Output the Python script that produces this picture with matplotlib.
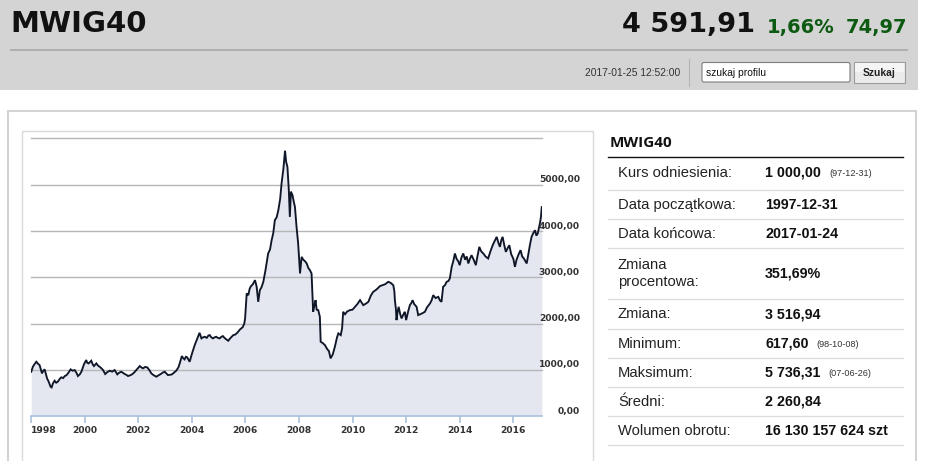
import matplotlib
matplotlib.use("Agg")
import matplotlib.pyplot as plt
from matplotlib.patches import Rectangle, FancyBboxPatch
from matplotlib.transforms import offset_copy

# ---------------- data ----------------
years = [1998.01, 1998.07, 1998.13, 1998.20, 1998.26, 1998.32, 1998.41, 1998.46, 1998.51, 1998.56,
         1998.60, 1998.66, 1998.73, 1998.77, 1998.82, 1998.88, 1998.94, 1999.00, 1999.07, 1999.13,
         1999.20, 1999.26, 1999.32, 1999.38, 1999.48, 1999.55, 1999.63, 1999.70, 1999.75, 1999.82,
         1999.88, 1999.98, 2000.06, 2000.10, 2000.15, 2000.25, 2000.30, 2000.35, 2000.44, 2000.50,
         2000.56, 2000.63, 2000.69, 2000.77, 2000.85, 2000.94, 2001.03, 2001.12, 2001.17, 2001.22,
         2001.30, 2001.37, 2001.44, 2001.50, 2001.56, 2001.62, 2001.70, 2001.77, 2001.85, 2001.93,
         2002.06, 2002.12, 2002.18, 2002.26, 2002.34, 2002.42, 2002.49, 2002.58, 2002.68, 2002.76,
         2002.84, 2002.92, 2002.99, 2003.05, 2003.11, 2003.18, 2003.26, 2003.34, 2003.42, 2003.50,
         2003.55, 2003.63, 2003.68, 2003.73, 2003.78, 2003.83, 2003.92, 2004.01, 2004.11, 2004.21,
         2004.29, 2004.36, 2004.42, 2004.48, 2004.56, 2004.62, 2004.67, 2004.73, 2004.79, 2004.85,
         2004.91, 2004.97, 2005.04, 2005.10, 2005.16, 2005.22, 2005.29, 2005.36, 2005.45, 2005.55,
         2005.62, 2005.70, 2005.80, 2005.90, 2005.96, 2005.99,
         2006.05, 2006.11, 2006.16, 2006.20, 2006.28, 2006.36,
         2006.42, 2006.48, 2006.54, 2006.60, 2006.67, 2006.75, 2006.85, 2006.92, 2006.98, 2007.04,
         2007.10, 2007.17, 2007.23, 2007.30, 2007.35, 2007.42, 2007.48, 2007.52, 2007.57, 2007.62,
         2007.66, 2007.70, 2007.76, 2007.80, 2007.85, 2007.91, 2007.97, 2008.04, 2008.10, 2008.16,
         2008.22, 2008.29, 2008.35, 2008.41, 2008.47, 2008.53, 2008.58, 2008.62, 2008.66, 2008.72,
         2008.78, 2008.81, 2008.88, 2008.97, 2009.05, 2009.12, 2009.18, 2009.26, 2009.34, 2009.42,
         2009.47, 2009.56, 2009.61, 2009.65, 2009.72, 2009.80, 2009.90, 2010.00, 2010.09, 2010.18,
         2010.28, 2010.34, 2010.40, 2010.50, 2010.59, 2010.68, 2010.77, 2010.86, 2010.94, 2011.02,
         2011.12, 2011.22, 2011.33, 2011.42, 2011.52, 2011.56, 2011.58, 2011.62, 2011.64, 2011.68,
         2011.72, 2011.78, 2011.83, 2011.90, 2011.95, 2012.00, 2012.07, 2012.14, 2012.20, 2012.24,
         2012.30, 2012.39, 2012.45, 2012.52, 2012.60, 2012.70, 2012.78, 2012.89, 2012.95, 2013.01,
         2013.10, 2013.20, 2013.26, 2013.32, 2013.38, 2013.45, 2013.51, 2013.58, 2013.63, 2013.70,
         2013.76, 2013.82, 2013.88, 2013.94, 2014.00, 2014.06, 2014.13, 2014.20, 2014.26, 2014.32,
         2014.38, 2014.44, 2014.52, 2014.60, 2014.66, 2014.73, 2014.80, 2014.88, 2014.96, 2015.06,
         2015.14, 2015.23, 2015.30, 2015.38, 2015.44, 2015.50, 2015.55, 2015.60, 2015.66, 2015.72,
         2015.78, 2015.85, 2015.92, 2016.00, 2016.06, 2016.12, 2016.20, 2016.27, 2016.33, 2016.40,
         2016.45, 2016.50, 2016.56, 2016.62, 2016.68, 2016.74, 2016.81, 2016.86, 2016.91, 2016.95,
         2016.99, 2017.03, 2017.06]
values = [957, 1065, 1120, 1173, 1130, 1101, 922, 980, 1008, 900,
          814, 741, 633, 618, 706, 763, 720, 741, 800, 836,
          820, 864, 880, 922, 1008, 980, 993, 930, 864, 900,
          957, 1123, 1210, 1150, 1137, 1195, 1120, 1080, 1137, 1090,
          1065, 1030, 993, 907, 950, 979, 960, 993, 950, 900,
          940, 957, 930, 907, 890, 864, 880, 900, 940, 993,
          1080, 1050, 1030, 1060, 1051, 990, 922, 880, 850, 880,
          907, 940, 957, 920, 885, 890, 900, 940, 979, 1050,
          1137, 1296, 1250, 1224, 1280, 1267, 1173, 1354, 1533, 1678,
          1799, 1678, 1700, 1713, 1690, 1740, 1749, 1700, 1678, 1700,
          1713, 1690, 1678, 1710, 1728, 1690, 1656, 1627, 1690, 1749,
          1760, 1800, 1872, 1920, 2000, 2110,
          2650, 2613, 2750, 2800, 2850, 2937,
          2800, 2469, 2721, 2780, 2901, 3150, 3514, 3600, 3801, 3950,
          4233, 4300, 4449, 4700, 5025, 5350, 5736, 5500, 5385, 4900,
          4305, 4850, 4773, 4650, 4520, 4089, 3730, 3082, 3441, 3380,
          3350, 3298, 3200, 3153, 3082, 2253, 2400, 2505, 2300, 2289,
          2145, 1605, 1580, 1533, 1450, 1400, 1246, 1330, 1497, 1700,
          1786, 1749, 1900, 2253, 2200, 2260, 2289, 2300, 2361, 2420,
          2505, 2450, 2397, 2430, 2469, 2600, 2685, 2720, 2760, 2808,
          2830, 2850, 2901, 2880, 2829, 2700, 2505, 2300, 2073, 2250,
          2361, 2200, 2110, 2200, 2253, 2073, 2250, 2397, 2450, 2505,
          2420, 2361, 2181, 2200, 2220, 2253, 2350, 2433, 2500, 2613,
          2550, 2577, 2500, 2469, 2793, 2829, 2901, 2920, 2973, 3225,
          3350, 3514, 3400, 3350, 3261, 3420, 3514, 3380, 3450, 3298,
          3400, 3477, 3380, 3261, 3450, 3657, 3560, 3514, 3450, 3406,
          3550, 3693, 3780, 3873, 3750, 3657, 3800, 3873, 3700, 3549,
          3620, 3693, 3500, 3400, 3225, 3380, 3500, 3585, 3450, 3400,
          3350, 3298, 3500, 3700, 3873, 3950, 4017, 3900, 3945, 4050,
          4161, 4300, 4517]
assert len(years) == len(values)

grid_values = [1000, 2000, 3000, 4000, 5000, 6000]
ytick_values = [0, 1000, 2000, 3000, 4000, 5000]
ytick_labels = ["0,00", "1000,00", "2000,00", "3000,00", "4000,00", "5000,00"]
xtick_years = [1998, 2000, 2002, 2004, 2006, 2008, 2010, 2012, 2014, 2016]
xtick_labels = ["1998", "2000", "2002", "2004", "2006", "2008", "2010", "2012", "2014", "2016"]

header_title = "MWIG40"
last_value = "4 591,91"
change_pct = "1,66%"
change_abs = "74,97"
timestamp = "2017-01-25 12:52:00"
search_placeholder = "szukaj profilu"
search_button = "Szukaj"

table_title = "MWIG40"
row_labels = ["Kurs odniesienia:", "Data początkowa:", "Data końcowa:", "Zmiana\nprocentowa:",
              "Zmiana:", "Minimum:", "Maksimum:", "Średni:", "Wolumen obrotu:"]
row_values = ["1 000,00", "1997-12-31", "2017-01-24", "351,69%", "3 516,94",
              "617,60", "5 736,31", "2 260,84", "16 130 157 624 szt"]
row_notes = ["(97-12-31)", "", "", "", "", "(98-10-08)", "(07-06-26)", "", ""]
row_heights = [33, 29, 29, 51, 30, 29, 29, 29, 29]

# ---------------- figure ----------------
W, H = 945, 461
fig = plt.figure(figsize=(W / 100, H / 100), dpi=100)
fig.patch.set_facecolor("white")

bg = fig.add_axes([0, 0, 1, 1])
bg.set_xlim(0, W)
bg.set_ylim(H, 0)
bg.axis("off")

# header band
bg.add_patch(Rectangle((0, 0), 918, 90.5, fc="#d4d4d4", ec="none", zorder=0))
bg.plot([10, 908], [50.5, 50.5], color="#a4a4a4", lw=1.1, solid_capstyle="butt")
bg.text(10, 32.5, header_title, fontsize=21, fontweight="bold", color="#111111",
        family="DejaVu Sans", ha="left", va="baseline")
bg.text(755, 32.5, last_value, fontsize=19.5, fontweight="bold", color="#111111",
        family="DejaVu Sans", ha="right", va="baseline")
bg.text(767, 32.5, change_pct, fontsize=14, fontweight="bold", color="#0d5a12",
        family="DejaVu Sans", ha="left", va="baseline")
bg.text(907, 32.5, change_abs, fontsize=14, fontweight="bold", color="#0d5a12",
        family="DejaVu Sans", ha="right", va="baseline")

# second header row
bg.text(680, 72.5, timestamp, fontsize=7.4, color="#333333", family="Liberation Sans",
        ha="right", va="center")
bg.plot([689, 689], [59, 86], color="#b3b3b3", lw=0.8)
bg.add_patch(FancyBboxPatch((702, 62.5), 148, 19.5, boxstyle="round,pad=0,rounding_size=2",
                            fc="white", ec="#7d7d7d", lw=0.8))
bg.text(706, 72.5, search_placeholder, fontsize=7.4, color="#111111", family="Liberation Sans",
        ha="left", va="center")
bg.add_patch(Rectangle((854, 62.5), 51, 20.5, fc="#ebebeb", ec="#9c9c9c", lw=0.8))
bg.add_patch(Rectangle((855, 63.5), 49, 9, fc="#f5f5f5", ec="none"))
bg.text(879.5, 73, search_button, fontsize=7.4, fontweight="bold", color="#222222",
        family="Liberation Sans", ha="center", va="center")

# panels
bg.add_patch(Rectangle((8, 111), 908, 420, fc="white", ec="#d3d3d3", lw=1.5))
bg.add_patch(Rectangle((21.5, 131), 571.5, 400, fc="none", ec="#dadada", lw=1.0))

# table
bg.text(610, 143, table_title, fontsize=11, fontweight="bold", color="#111111",
        family="Open Sans", ha="left", va="center")
bg.plot([608, 903], [157, 157], color="#111111", lw=1.0)
y = 157
for i, (lab, val, note, h) in enumerate(zip(row_labels, row_values, row_notes, row_heights)):
    yc = y + h / 2
    if i == 0:
        yc = y + (h - 2) / 2
    bg.text(618, yc, lab, fontsize=10.6, color="#222222", family="Liberation Sans",
            ha="left", va="center", linespacing=1.25)
    t = bg.text(765, yc, val, fontsize=10.3, fontweight="bold", color="#111111",
                family="Liberation Sans", ha="left", va="center")
    if note:
        bg.annotate(note, xy=(1, 0.5), xycoords=t, xytext=(6, -1.0), textcoords="offset points",
                    fontsize=6.6, color="#333333", family="Liberation Sans",
                    ha="left", va="center")
    y += h
    bg.plot([608, 903], [y, y], color="#dcdcdc", lw=0.9)

# ---------------- chart ----------------
x0, x1, ytop, ybot = 31, 542, 138.5, 416
ax = fig.add_axes([x0 / W, (H - ybot) / H, (x1 - x0) / W, (ybot - ytop) / H])
ax.set_facecolor("none")
ax.set_xlim(1998.0, 2017.07)
ax.set_ylim(0, 6000)
for s in ["top", "left", "right"]:
    ax.spines[s].set_visible(False)
ax.spines["bottom"].set_color("#a9c1dc")
ax.spines["bottom"].set_linewidth(1.2)

ax.fill_between(years, values, 0, color="#e4e7ef", lw=0, zorder=1)
for g in grid_values:
    ax.axhline(g, color="#b7b7b7", lw=1.0, zorder=2, clip_on=False)
ax.plot(years, values, color="#0e1628", lw=1.35, zorder=3, solid_joinstyle="miter")

ax.set_xticks(xtick_years)
ax.set_xticklabels(xtick_labels)
ax.tick_params(axis="x", length=5, width=1.2, color="#a9c1dc", pad=2.2,
               labelsize=6.6, labelcolor="#333333")
for lbl in ax.get_xticklabels():
    lbl.set_fontweight("bold")
    lbl.set_family("DejaVu Sans")
ax.get_xticklabels()[0].set_ha("left")
ax.set_yticks([])

trans = offset_copy(ax.get_yaxis_transform(), fig=fig, x=0, y=5.0, units="dots")
for v, lbl in zip(ytick_values, ytick_labels):
    ax.text((580 - x0) / (x1 - x0), v, lbl, transform=trans, ha="right", va="center",
            fontsize=6.6, fontweight="bold", color="#333333", family="DejaVu Sans",
            clip_on=False)

fig.savefig("out.png", dpi=100, facecolor="white")
